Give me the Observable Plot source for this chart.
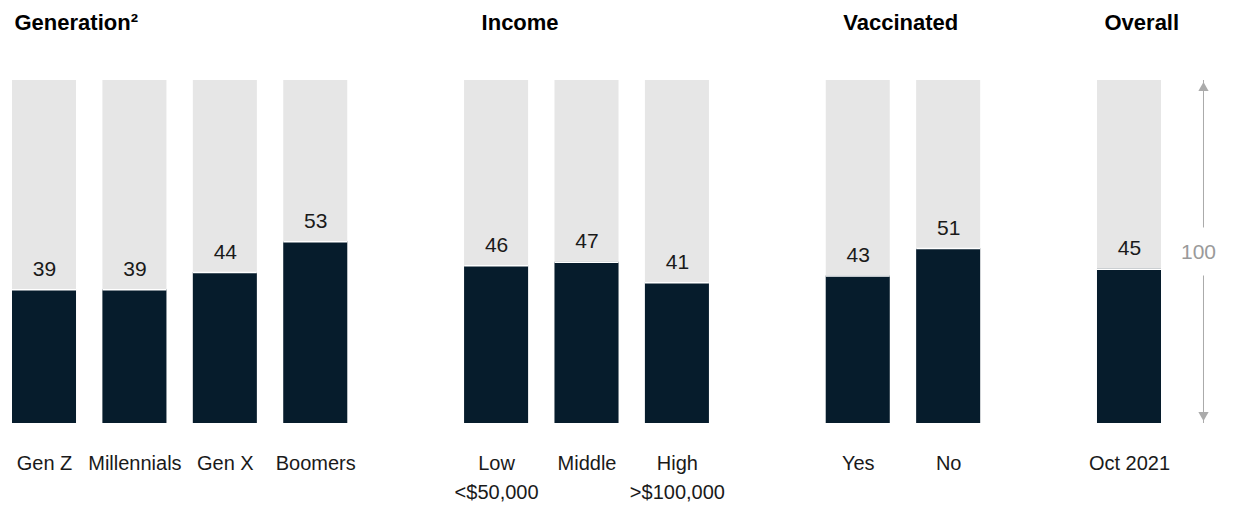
<!DOCTYPE html>
<html>
<head>
<meta charset="utf-8">
<script src="https://cdn.jsdelivr.net/npm/d3@7"></script>
<script src="https://cdn.jsdelivr.net/npm/@observablehq/plot@0.6"></script>
<style>
  html, body { margin: 0; padding: 0; background: #fff; }
  #chart svg { display: block; }
</style>
</head>
<body>
<div id="chart"></div>
<script>
// ---- data ----
const categories = ["Gen Z", "Millennials", "Gen X", "Boomers", "Low", "Middle", "High", "Yes", "No", "Oct 2021"];
const values = [39, 39, 44, 53, 46, 47, 41, 43, 51, 45];
const tickLabels = ["Gen Z", "Millennials", "Gen X", "Boomers", "Low\n<$50,000", "Middle", "High\n>$100,000", "Yes", "No", "Oct 2021"];
const groupTitles = ["Generation²", "Income", "Vaccinated", "Overall"];
const groupFirst = ["Gen Z", "Low", "Yes", "Oct 2021"];
const slotOrder = ["Gen Z", "Millennials", "Gen X", "Boomers", "gap1", "Low", "Middle", "High", "gap2", "Yes", "No", "gap3", "Oct 2021"];
const scaleTotal = 100;
const scaleLabel = "100";

// ---- build table ----
const table = categories.map((c, i) => ({category: c, value: values[i], label: tickLabels[i]}));
const FONT = "'Liberation Sans', Arial, Helvetica, sans-serif";
const dark = "#061c2c";
const light = "#e6e6e6";
const grey = "#ababab";

const headerDx = [-30, -15, -15, -25];
const arrowDx = 74;
const lastCat = categories[categories.length - 1];

const headerMarks = groupTitles.map((t, i) =>
  Plot.text([t], {
    x: () => groupFirst[i],
    frameAnchor: "top",
    text: d => d,
    textAnchor: "start",
    lineAnchor: "bottom",
    dx: headerDx[i],
    dy: -51,
    fontSize: 22,
    fontWeight: "bold",
    fill: "#000"
  })
);

const chart = Plot.plot({
  width: 1233,
  height: 506,
  marginTop: 80,
  marginBottom: 83,
  marginLeft: 12,
  marginRight: 72,
  style: {fontFamily: FONT, background: "#fff", overflow: "visible"},
  x: {type: "band", domain: slotOrder, paddingInner: 0.292, paddingOuter: 0, round: false, axis: null},
  y: {domain: [0, scaleTotal], axis: null},
  marks: [
    Plot.barY(table, {x: "category", y: () => scaleTotal, fill: light}),
    Plot.barY(table, {x: "category", y: "value", fill: dark}),
    Plot.tickY(table, {x: "category", y: "value", stroke: "#fff", strokeWidth: 1.5}),
    Plot.text(table, {
      x: "category", y: "value", text: d => String(d.value),
      lineAnchor: "bottom", dy: -14, fontSize: 21, fill: "#1a1a1a"
    }),
    Plot.text(table, {
      x: "category", frameAnchor: "bottom", text: "label",
      lineAnchor: "top", dy: 26, fontSize: 20, lineHeight: 1.45, fill: "#1a1a1a"
    }),
    ...headerMarks,
    // scale arrow
    Plot.ruleX([[scaleTotal, 57], [43, 0]], {
      x: () => lastCat, y1: d => d[0], y2: d => d[1], dx: arrowDx, stroke: grey, strokeWidth: 1
    }),
    Plot.dot([scaleTotal], {
      x: () => lastCat, y: d => d, symbol: "triangle", r: 3.8, fill: grey, stroke: null, dx: arrowDx, dy: 7.5
    }),
    Plot.dot([0], {
      x: () => lastCat, y: d => d, symbol: "triangle", r: 3.8, rotate: 180, fill: grey, stroke: null, dx: arrowDx, dy: -8.5
    }),
    Plot.text([scaleLabel], {
      x: () => lastCat, y: () => scaleTotal / 2, text: d => d,
      dx: arrowDx - 5, fontSize: 21, fill: "#9a9a9a", lineAnchor: "middle"
    })
  ]
});
document.getElementById("chart").appendChild(chart);
</script>
</body>
</html>
